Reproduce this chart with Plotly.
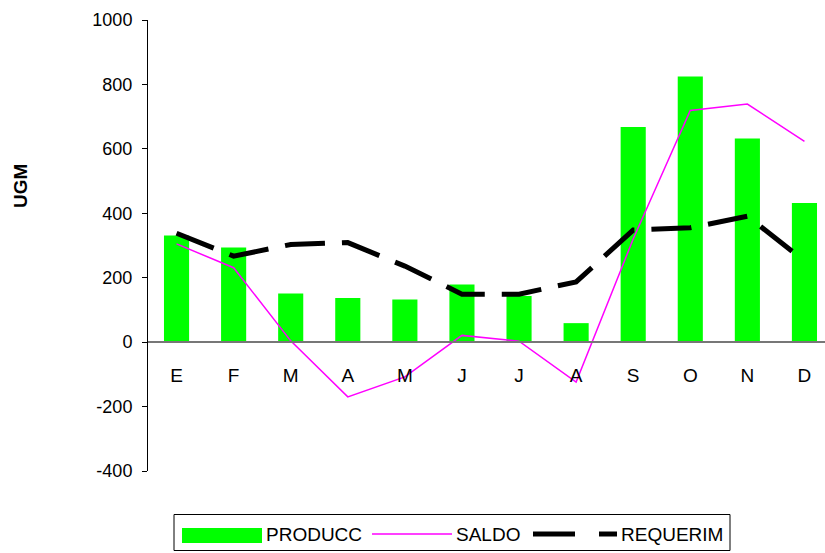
import plotly.graph_objects as go

months = ["E", "F", "M", "A", "M", "J", "J", "A", "S", "O", "N", "D"]
producc = [331, 294, 151, 137, 132, 179, 143, 59, 668, 825, 632, 432]
saldo = [305, 231, 4, -170, -108, 21, 3, -124, 320, 719, 739, 623]
requerim = [338, 267, 303, 309, 236, 149, 149, 187, 348, 355, 391, 252]
series_names = ["PRODUCC", "SALDO", "REQUERIM"]
ytick_vals = [-400, -200, 0, 200, 400, 600, 800, 1000]
ytick_text = ["-400", "-200", "0", "200", "400", "600", "800", "1000"]
y_title = "UGM"

x = list(range(len(months)))

GREEN = "#00FF00"
MAGENTA = "#FF00FF"

fig = go.Figure()
fig.add_trace(go.Bar(x=x, y=producc, marker=dict(color=GREEN, line=dict(width=0)),
                     name=series_names[0]))
fig.add_trace(go.Scatter(x=x, y=saldo, mode="lines", line=dict(color=MAGENTA, width=1.5),
                         name=series_names[1]))
fig.add_trace(go.Scatter(x=x, y=requerim, mode="lines",
                         line=dict(color="black", width=5, dash="40px,17px"),
                         name=series_names[2]))

# plot area in pixels
L, R, T, B = 148, 825, 20, 471
def px(v):
    return (v - L) / (R - L)
def py(v):
    return (B - v) / (B - T)

# manual legend (box, symbols, labels)
shapes = []
shapes.append(dict(type="rect", xref="paper", yref="paper",
                   x0=px(174), x1=px(730), y0=py(514.5), y1=py(550.5),
                   line=dict(color="black", width=1), fillcolor="white", layer="above"))
shapes.append(dict(type="rect", xref="paper", yref="paper",
                   x0=px(182), x1=px(262), y0=py(528), y1=py(543),
                   line=dict(width=0), fillcolor=GREEN, layer="above"))
shapes.append(dict(type="line", xref="paper", yref="paper",
                   x0=px(372), x1=px(452), y0=py(534), y1=py(534),
                   line=dict(color=MAGENTA, width=1.5), layer="above"))
shapes.append(dict(type="line", xref="paper", yref="paper",
                   x0=px(533), x1=px(575), y0=py(534), y1=py(534),
                   line=dict(color="black", width=5), layer="above"))
shapes.append(dict(type="line", xref="paper", yref="paper",
                   x0=px(599), x1=px(617), y0=py(534), y1=py(534),
                   line=dict(color="black", width=5), layer="above"))

annotations = []
for name, xl in zip(series_names, [266, 456, 621]):
    annotations.append(dict(text=name, xref="paper", yref="paper",
                            x=px(xl), y=py(534), xanchor="left", yanchor="middle",
                            showarrow=False, font=dict(size=19), xshift=-2))
annotations.append(dict(text="<b>" + y_title + "</b>", xref="paper", yref="paper",
                        x=px(20), y=py(186), xanchor="center", yanchor="middle",
                        textangle=-90, showarrow=False, font=dict(size=19)))

fig.update_layout(
    width=825, height=553,
    margin=dict(l=L, r=0, t=T, b=553 - B),
    plot_bgcolor="white", paper_bgcolor="white",
    font=dict(family="Liberation Sans, Arial, sans-serif", size=18, color="black"),
    bargap=0.56,
    showlegend=False,
    shapes=shapes,
    annotations=annotations,
)
fig.update_xaxes(
    tickmode="array", tickvals=x, ticktext=months,
    range=[-0.5, 11.36],
    anchor="free", position=400/1400,
    showline=True, linecolor="#777777", linewidth=2,
    ticks="", showgrid=False, zeroline=False,
    ticklabelstandoff=16, tickfont=dict(size=19),
)
fig.update_yaxes(
    range=[-400, 1000], tickmode="array", tickvals=ytick_vals, ticktext=ytick_text,
    showline=True, linecolor="black", linewidth=1,
    ticks="outside", ticklen=5, tickcolor="black",
    showgrid=False, zeroline=False, ticklabelstandoff=6,
)
fig.write_html("out.html")
